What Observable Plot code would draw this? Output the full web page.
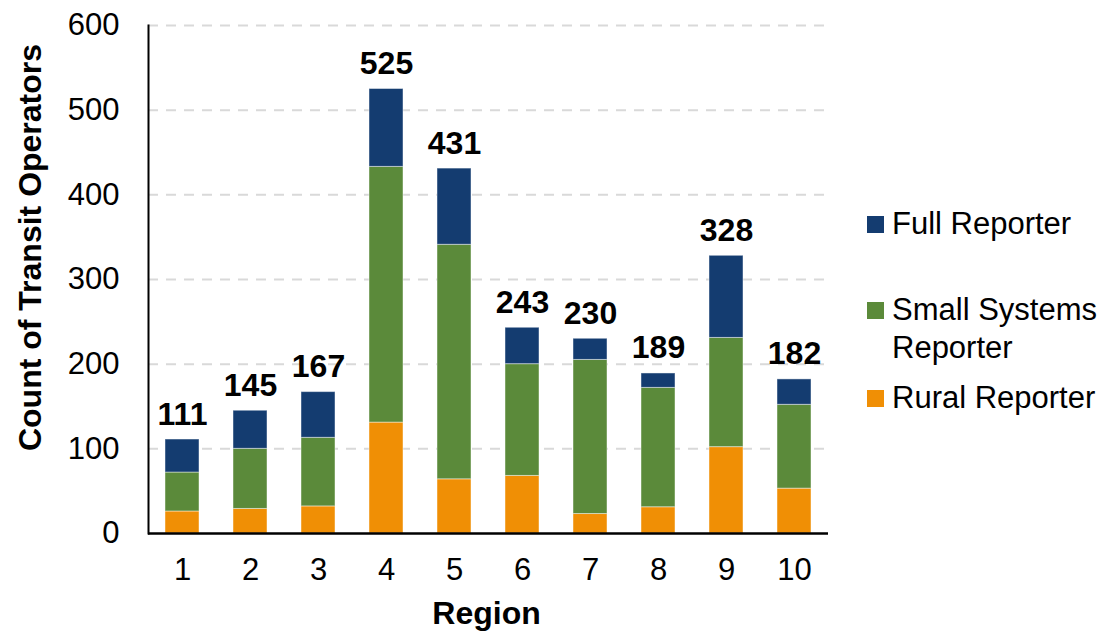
<!DOCTYPE html>
<html>
<head>
<meta charset="utf-8">
<script src="https://cdn.jsdelivr.net/npm/d3@7"></script>
<script src="https://cdn.jsdelivr.net/npm/@observablehq/plot@0.6"></script>
<style>
  html, body { margin: 0; padding: 0; background: #fff; }
  #chart { position: relative; width: 1104px; height: 632px; font-family: "Liberation Sans", Arial, sans-serif; }
  #chart svg { display: block; }
  .legend { position: absolute; left: 867px; top: 0; font-size: 31px; color: #000; line-height: 38px; }
  .legend .item { position: absolute; left: 0; white-space: nowrap; }
  .legend .swatch { position: absolute; left: 0; width: 17px; height: 17px; }
  .legend .label { position: absolute; left: 25px; }
</style>
</head>
<body>
<div id="chart"></div>
<script>
// Transit operators per region, split by reporter type
const regions = ["1", "2", "3", "4", "5", "6", "7", "8", "9", "10"];
const ruralReporter = [26, 29, 32, 131, 64, 68, 23, 31, 102, 53];
const smallSystemsReporter = [46, 71, 81, 302, 277, 132, 182, 141, 129, 99];
const fullReporter = [39, 45, 54, 92, 90, 43, 25, 17, 97, 30];

const seriesNames = ["Rural Reporter", "Small Systems Reporter", "Full Reporter"];
const seriesColors = ["#f08f05", "#5b8a3a", "#143c70"];
const yTicks = [0, 100, 200, 300, 400, 500, 600];

// long-format table for stacking
const rows = [];
regions.forEach((r, i) => {
  rows.push({region: r, type: seriesNames[0], count: ruralReporter[i]});
  rows.push({region: r, type: seriesNames[1], count: smallSystemsReporter[i]});
  rows.push({region: r, type: seriesNames[2], count: fullReporter[i]});
});
const totals = regions.map((r, i) => ({
  region: r,
  total: ruralReporter[i] + smallSystemsReporter[i] + fullReporter[i]
}));

const font = "Liberation Sans, Arial, sans-serif";

const chart = Plot.plot({
  width: 1104,
  height: 632,
  marginLeft: 148,
  marginRight: 276,
  marginTop: 25,
  marginBottom: 99,
  style: {fontFamily: font, fontSize: "31px", color: "#000", background: "#fff"},
  x: {domain: regions, paddingInner: 0.5, paddingOuter: 0.25, label: null},
  y: {domain: [0, 600], label: null},
  color: {domain: seriesNames, range: seriesColors},
  marks: [
    Plot.ruleY(yTicks.filter(d => d > 0), {stroke: "#d9d9d9", strokeWidth: 2, strokeDasharray: "10,8"}),
    Plot.barY(rows, {
      x: "region", y: "count", fill: "type",
      order: seriesNames,
      stroke: "#ffffff", strokeOpacity: 0.45, strokeWidth: 1
    }),
    Plot.text(totals, {
      x: "region", y: "total", text: d => String(d.total),
      lineAnchor: "bottom", dy: -15,
      fontWeight: "bold", fontSize: 32, fill: "#000"
    }),
    Plot.axisY({ticks: yTicks, tickSize: 0, tickPadding: 29, fontSize: 31, label: null}),
    Plot.axisX({tickSize: 0, tickPadding: 24, fontSize: 31, label: null}),
    Plot.frame({anchor: "left", stroke: "#000", strokeWidth: 2}),
    Plot.ruleY([0], {stroke: "#000", strokeWidth: 2.5}),
    Plot.text(["Count of Transit Operators"], {
      frameAnchor: "left", text: d => d, rotate: -90,
      textAnchor: "middle", lineAnchor: "middle",
      dx: -118, dy: -32,
      fontWeight: "bold", fontSize: 32, fill: "#000"
    }),
    Plot.text(["Region"], {
      frameAnchor: "bottom", text: d => d,
      textAnchor: "middle", lineAnchor: "middle",
      dx: -2, dy: 80,
      fontWeight: "bold", fontSize: 32, fill: "#000"
    })
  ]
});

const container = document.getElementById("chart");
container.appendChild(chart);

// legend on the right, top series first
const legend = document.createElement("div");
legend.className = "legend";
const legendItems = [
  {lines: ["Full Reporter"], color: seriesColors[2], top: 205},
  {lines: ["Small Systems", "Reporter"], color: seriesColors[1], top: 291},
  {lines: ["Rural Reporter"], color: seriesColors[0], top: 379}
];
legendItems.forEach(item => {
  const el = document.createElement("div");
  el.className = "item";
  el.style.top = item.top + "px";
  const sw = document.createElement("div");
  sw.className = "swatch";
  sw.style.background = item.color;
  sw.style.top = "11px";
  const lab = document.createElement("div");
  lab.className = "label";
  lab.innerHTML = item.lines.join("<br>");
  el.appendChild(sw);
  el.appendChild(lab);
  legend.appendChild(el);
});
container.appendChild(legend);
</script>
</body>
</html>
